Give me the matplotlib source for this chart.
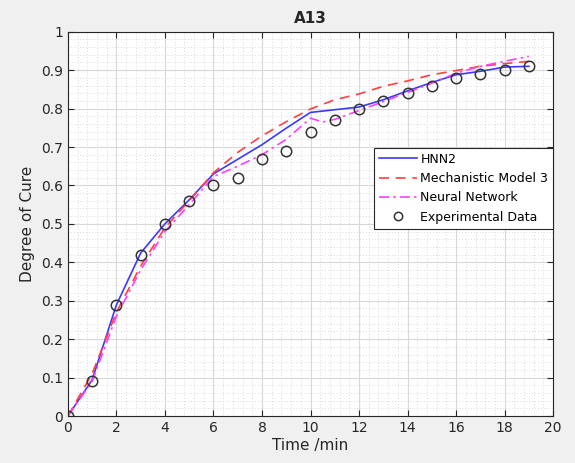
import matplotlib
matplotlib.use("Agg")
import matplotlib.pyplot as plt
from matplotlib.ticker import MultipleLocator

t = list(range(20))
exp_data = [0.0, 0.09, 0.29, 0.42, 0.50, 0.56, 0.60, 0.62, 0.67, 0.69,
            0.74, 0.77, 0.80, 0.82, 0.84, 0.86, 0.88, 0.89, 0.90, 0.91]
hnn2 = [0.0, 0.094, 0.289, 0.424, 0.50, 0.5625, 0.63, 0.668, 0.706, 0.749,
        0.79, 0.797, 0.804, 0.823, 0.846, 0.868, 0.888, 0.897, 0.908, 0.91]
mech = [0.0, 0.11, 0.27, 0.39, 0.49, 0.56, 0.633, 0.686, 0.729, 0.766,
        0.799, 0.823, 0.838, 0.858, 0.872, 0.888, 0.899, 0.91, 0.917, 0.923]
nn_t = [0, 1, 2, 3, 4, 5, 6, 7, 8, 9, 10, 10.5, 11, 12, 13, 14, 15, 16, 17, 18, 19]
nn = [0.0, 0.09, 0.26, 0.38, 0.48, 0.55, 0.623, 0.65, 0.68, 0.72, 0.775, 0.765,
      0.772, 0.795, 0.818, 0.842, 0.866, 0.892, 0.91, 0.923, 0.936]

fig = plt.figure(figsize=(5.75, 4.63), dpi=100, facecolor='#f0f0f0')
ax = fig.add_axes([0.118, 0.1015, 0.844, 0.83])
ax.set_facecolor('white')

ax.plot(t, hnn2, color='#3a3aff', lw=1.2, label='HNN2')
ax.plot(t, mech, color='#ff4040', lw=1.2, ls=(0, (6, 4)), label='Mechanistic Model 3')
ax.plot(nn_t, nn, color='#ff40ff', lw=1.2, ls=(0, (6, 2.5, 1.5, 2.5)), label='Neural Network')
ax.plot(t, exp_data, 'o', mfc='none', mec='#333333', ms=7.5, mew=1.1, ls='none',
        label='Experimental Data')

ax.set_xlim(0, 20)
ax.set_ylim(0, 1)
ax.xaxis.set_major_locator(MultipleLocator(2))
ax.yaxis.set_major_locator(MultipleLocator(0.1))
ax.xaxis.set_minor_locator(MultipleLocator(0.4))
ax.yaxis.set_minor_locator(MultipleLocator(0.02))
ax.set_yticks([0, 0.1, 0.2, 0.3, 0.4, 0.5, 0.6, 0.7, 0.8, 0.9, 1])
ax.set_yticklabels(['0', '0.1', '0.2', '0.3', '0.4', '0.5', '0.6', '0.7', '0.8', '0.9', '1'])
ax.grid(which='major', color='#d8d8d8', lw=0.8)
ax.grid(which='minor', color='#cfcfcf', lw=0.6, ls=(0, (1, 2.5)))
ax.set_axisbelow(True)
ax.tick_params(which='both', direction='in', top=True, right=True, labelsize=10, colors='#262626')
ax.tick_params(which='minor', length=0)
ax.tick_params(which='major', length=4)
for s in ax.spines.values():
    s.set_color('#262626')
    s.set_linewidth(0.8)

ax.set_xlabel('Time /min', fontsize=11, color='#262626', labelpad=2)
ax.set_ylabel('Degree of Cure', fontsize=11, color='#262626', labelpad=4)
ax.set_title('A13', fontsize=11, fontweight='bold', color='#262626', pad=6)

leg = ax.legend(loc='upper right', bbox_to_anchor=(1.0, 0.698), fontsize=9,
                frameon=True, fancybox=False, edgecolor='#262626', framealpha=1,
                handlelength=3.0, borderpad=0.4, labelspacing=0.5, handletextpad=0.3,
                borderaxespad=0.0, markerscale=0.8)
leg.get_frame().set_linewidth(0.8)

fig.savefig('out.png', dpi=100, facecolor=fig.get_facecolor())
